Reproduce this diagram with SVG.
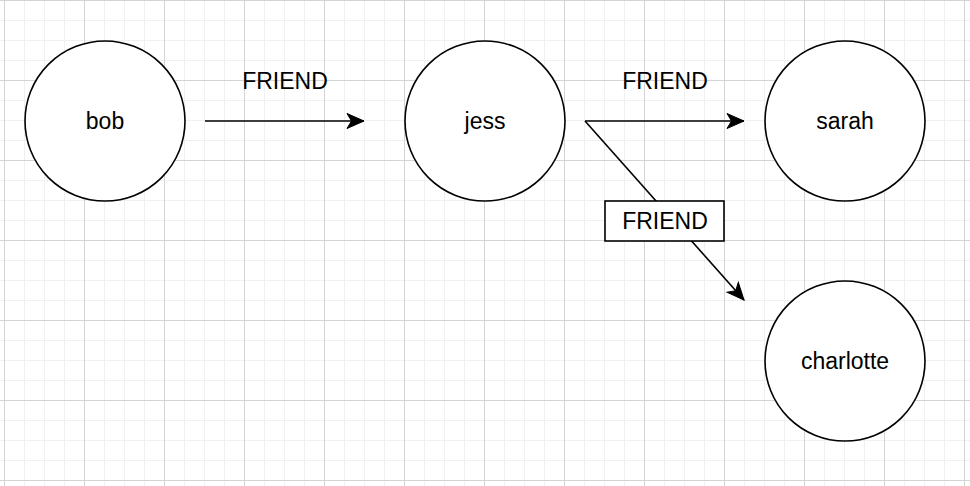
<svg xmlns="http://www.w3.org/2000/svg" width="970" height="486" viewBox="0 0 970 486">
<defs>
<pattern id="minor" x="4" y="0" width="20" height="20" patternUnits="userSpaceOnUse">
<path d="M 0 0.5 H 20 M 0.5 0 V 20" fill="none" stroke="#f0f0f0" stroke-width="1"/>
</pattern>
<pattern id="major" x="4" y="0" width="80" height="80" patternUnits="userSpaceOnUse">
<path d="M 0 0.5 H 80 M 0.5 0 V 80" fill="none" stroke="#d4d4d4" stroke-width="1"/>
</pattern>
<marker id="arrow" markerUnits="userSpaceOnUse" markerWidth="20" markerHeight="20" viewBox="-18 -10 20 20" refX="0" refY="0" orient="auto">
<path d="M 0 0 L -17 -7.5 L -12.5 0 L -17 7.5 Z" fill="#000" stroke="#000" stroke-width="1"/>
</marker>
</defs>
<style>
.node circle { fill: #fff; stroke: #000; stroke-width: 1.6; }
text { font-family: "Liberation Sans", Arial, Helvetica, sans-serif; font-size: 23px; fill: #000; text-anchor: middle; }
.edge { fill: none; stroke: #000; stroke-width: 1.6; marker-end: url(#arrow); }
</style>
<rect width="970" height="486" fill="#fff"/>
<rect width="970" height="486" fill="url(#minor)"/>
<rect width="970" height="486" fill="url(#major)"/>
<g id="connectors">
<path class="edge" d="M 205 121 L 364 121"/>
<path class="edge" d="M 585 121 L 744 121"/>
<path class="edge" d="M 585 121 L 744 300"/>
</g>
<g id="label-bob-jess"><text x="285" y="89">FRIEND</text></g>
<g id="label-jess-sarah"><text x="665" y="89">FRIEND</text></g>
<g id="label-jess-charlotte">
<rect x="605" y="201" width="119" height="40" fill="#fff" stroke="#000" stroke-width="1.6"/>
<text x="665" y="229">FRIEND</text>
</g>
<g id="bob" class="node"><circle cx="105" cy="121" r="80"/><text x="105" y="129">bob</text></g>
<g id="jess" class="node"><circle cx="485" cy="121" r="80"/><text x="485" y="129">jess</text></g>
<g id="sarah" class="node"><circle cx="845" cy="121" r="80"/><text x="845" y="129">sarah</text></g>
<g id="charlotte" class="node"><circle cx="845" cy="361" r="80"/><text x="845" y="369">charlotte</text></g>
</svg>
